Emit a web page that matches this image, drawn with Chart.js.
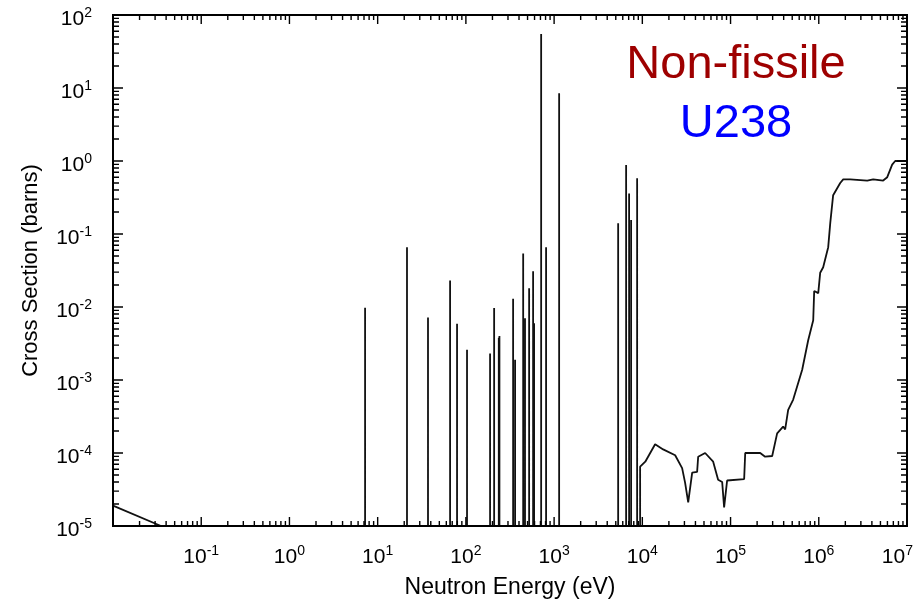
<!DOCTYPE html>
<html>
<head>
<meta charset="utf-8">
<script src="https://cdn.jsdelivr.net/npm/chart.js@4.4.1/dist/chart.umd.min.js"></script>
<style>
  html, body { margin: 0; padding: 0; background: #fff; }
  #wrap { width: 922px; height: 602px; }
</style>
</head>
<body>
<div id="wrap"><canvas id="xsChart" width="922" height="602"></canvas></div>
<script>
// bottom of the plotted range, the curve sits on it between resonances
const floorXs = 1e-5;

// low energy tail at the left edge
const tailEnergy = [0.01, 0.035];
const tailXs = [1.9e-5, 1e-5];

// resolved resonances: energy (eV) and peak cross section (barns)
const resEnergy = [7.2, 21.5, 37.2, 66.2, 79.4, 103, 188, 209, 236, 240, 343, 361, 446, 468, 521, 578, 593, 713, 811, 1140, 5320, 6550, 7080, 7460, 8730];
const resPeak = [0.0098, 0.066, 0.0072, 0.023, 0.0059, 0.0026, 0.0023, 0.0097, 0.0038, 0.004, 0.013, 0.0019, 0.054, 0.007, 0.018, 0.031, 0.006, 55, 0.066, 8.5, 0.14, 0.88, 0.36, 0.155, 0.58];

// smooth part from ~10 keV up to 10 MeV
const fastEnergy = [9440, 10800, 13960, 17220, 23550, 28250, 30550, 33110, 36730, 41780, 42950, 51520, 63530, 72280, 80350, 84530, 91410, 142600, 146600, 216800, 246600, 296500, 337300, 394500, 415900, 449800, 512900, 648600, 758600, 865000, 887200, 986300, 1.038e6, 1.122e6, 1.279e6, 1.349e6, 1.455e6, 1.75e6, 1.892e6, 2.27e6, 3.54e6, 4.14e6, 5.37e6, 5.97e6, 6.79e6, 7.35e6, 1e7];
const fastXs = [6.5e-5, 7.6e-5, 1.32e-4, 1.12e-4, 9.3e-5, 6.2e-5, 3.9e-5, 2.1e-5, 5.4e-5, 5.5e-5, 8.9e-5, 1.0e-4, 7.6e-5, 4.3e-5, 4.0e-5, 1.8e-5, 4.2e-5, 4.4e-5, 1.0e-4, 1.0e-4, 8.9e-5, 9.1e-5, 1.86e-4, 2.3e-4, 2.1e-4, 3.9e-4, 5.4e-4, 1.38e-3, 3.5e-3, 6.6e-3, 0.0166, 0.0155, 0.0295, 0.035, 0.066, 0.141, 0.34, 0.50, 0.56, 0.56, 0.54, 0.56, 0.54, 0.60, 0.89, 1.0, 1.0];

// tick label exponents
const xExponents = [-1, 0, 1, 2, 3, 4, 5, 6, 7];
const yExponents = [2, 1, 0, -1, -2, -3, -4, -5];

const FONT = "'Liberation Sans', Arial, sans-serif";

const points = [];
tailEnergy.forEach((e, i) => points.push({ x: e, y: tailXs[i] }));
resEnergy.forEach((e, i) => {
  points.push({ x: e, y: floorXs }, { x: e, y: resPeak[i] }, { x: e, y: floorXs });
});
points.push({ x: fastEnergy[0], y: floorXs });
fastEnergy.forEach((e, i) => points.push({ x: e, y: fastXs[i] }));

// frame, inward ticks on all sides, 10^n labels and the note
const axisDecor = {
  id: 'axisDecor',
  afterDatasetsDraw(chart) {
    const { ctx, chartArea: a, scales } = chart;
    const xs = scales.x, ys = scales.y;
    ctx.save();
    ctx.strokeStyle = '#000';
    ctx.lineWidth = 2;
    ctx.strokeRect(a.left, a.top, a.right - a.left, a.bottom - a.top);

    ctx.lineWidth = 1.4;
    ctx.beginPath();
    for (let n = -2; n <= 6; n++) {
      for (let k = 1; k <= 9; k++) {
        const px = xs.getPixelForValue(k * Math.pow(10, n));
        const len = k === 1 ? 9 : 5;
        ctx.moveTo(px, a.bottom); ctx.lineTo(px, a.bottom - len);
        ctx.moveTo(px, a.top); ctx.lineTo(px, a.top + len);
      }
    }
    for (let n = -5; n <= 1; n++) {
      for (let k = 1; k <= 9; k++) {
        const py = ys.getPixelForValue(k * Math.pow(10, n));
        const len = k === 1 ? 10 : 6;
        ctx.moveTo(a.left, py); ctx.lineTo(a.left + len, py);
        ctx.moveTo(a.right, py); ctx.lineTo(a.right - len, py);
      }
    }
    ctx.stroke();

    ctx.fillStyle = '#000';
    ctx.textBaseline = 'alphabetic';
    ctx.textAlign = 'left';
    const big = '21px ' + FONT, small = '14px ' + FONT;
    xExponents.forEach(n => {
      const px = xs.getPixelForValue(Math.pow(10, n));
      ctx.font = big; const w1 = ctx.measureText('10').width;
      ctx.font = small; const w2 = ctx.measureText(String(n)).width;
      const x0 = Math.min(px - (w1 + w2) / 2, chart.width - 9 - w1 - w2);
      ctx.font = big; ctx.fillText('10', x0, a.bottom + 37);
      ctx.font = small; ctx.fillText(String(n), x0 + w1, a.bottom + 29);
    });
    yExponents.forEach(n => {
      const py = ys.getPixelForValue(Math.pow(10, n));
      ctx.font = big; const w1 = ctx.measureText('10').width;
      ctx.font = small; const w2 = ctx.measureText(String(n)).width;
      const right = a.left - 21;
      ctx.font = big; ctx.fillText('10', right - w2 - w1, py + 10);
      ctx.font = small; ctx.fillText(String(n), right - w2, py + 2);
    });

    ctx.textAlign = 'center';
    ctx.font = '47px ' + FONT;
    ctx.fillStyle = '#9e0000';
    ctx.fillText('Non-fissile', a.right - 171, a.top + 63);
    ctx.fillStyle = '#0000ff';
    ctx.fillText('U238', a.right - 171, a.top + 122);
    ctx.restore();
  }
};

const ctx = document.getElementById('xsChart');
new Chart(ctx, {
  type: 'scatter',
  data: {
    datasets: [{
      label: 'U238 fission cross section',
      data: points,
      showLine: true,
      borderColor: '#111',
      borderWidth: 1.8,
      borderJoinStyle: 'bevel',
      pointRadius: 0,
      tension: 0,
      clip: 4
    }]
  },
  options: {
    responsive: false,
    animation: false,
    layout: { padding: { top: 15, right: 15, left: 0, bottom: 0 } },
    plugins: {
      legend: { display: false },
      tooltip: { enabled: false }
    },
    scales: {
      x: {
        type: 'logarithmic',
        min: 0.01,
        max: 1e7,
        grid: { display: false },
        border: { display: false },
        ticks: { display: false },
        title: {
          display: true,
          text: 'Neutron Energy (eV)',
          color: '#000',
          font: { family: FONT, size: 23 },
          padding: { top: 0, bottom: 1 }
        },
        afterFit: (scale) => { scale.height = 76; }
      },
      y: {
        type: 'logarithmic',
        min: 1e-5,
        max: 100,
        grid: { display: false },
        border: { display: false },
        ticks: { display: false },
        title: {
          display: true,
          text: 'Cross Section (barns)',
          color: '#000',
          font: { family: FONT, size: 22 },
          padding: { top: 18, bottom: 0 }
        },
        afterFit: (scale) => { scale.width = 113; }
      }
    }
  },
  plugins: [axisDecor]
});
</script>
</body>
</html>
